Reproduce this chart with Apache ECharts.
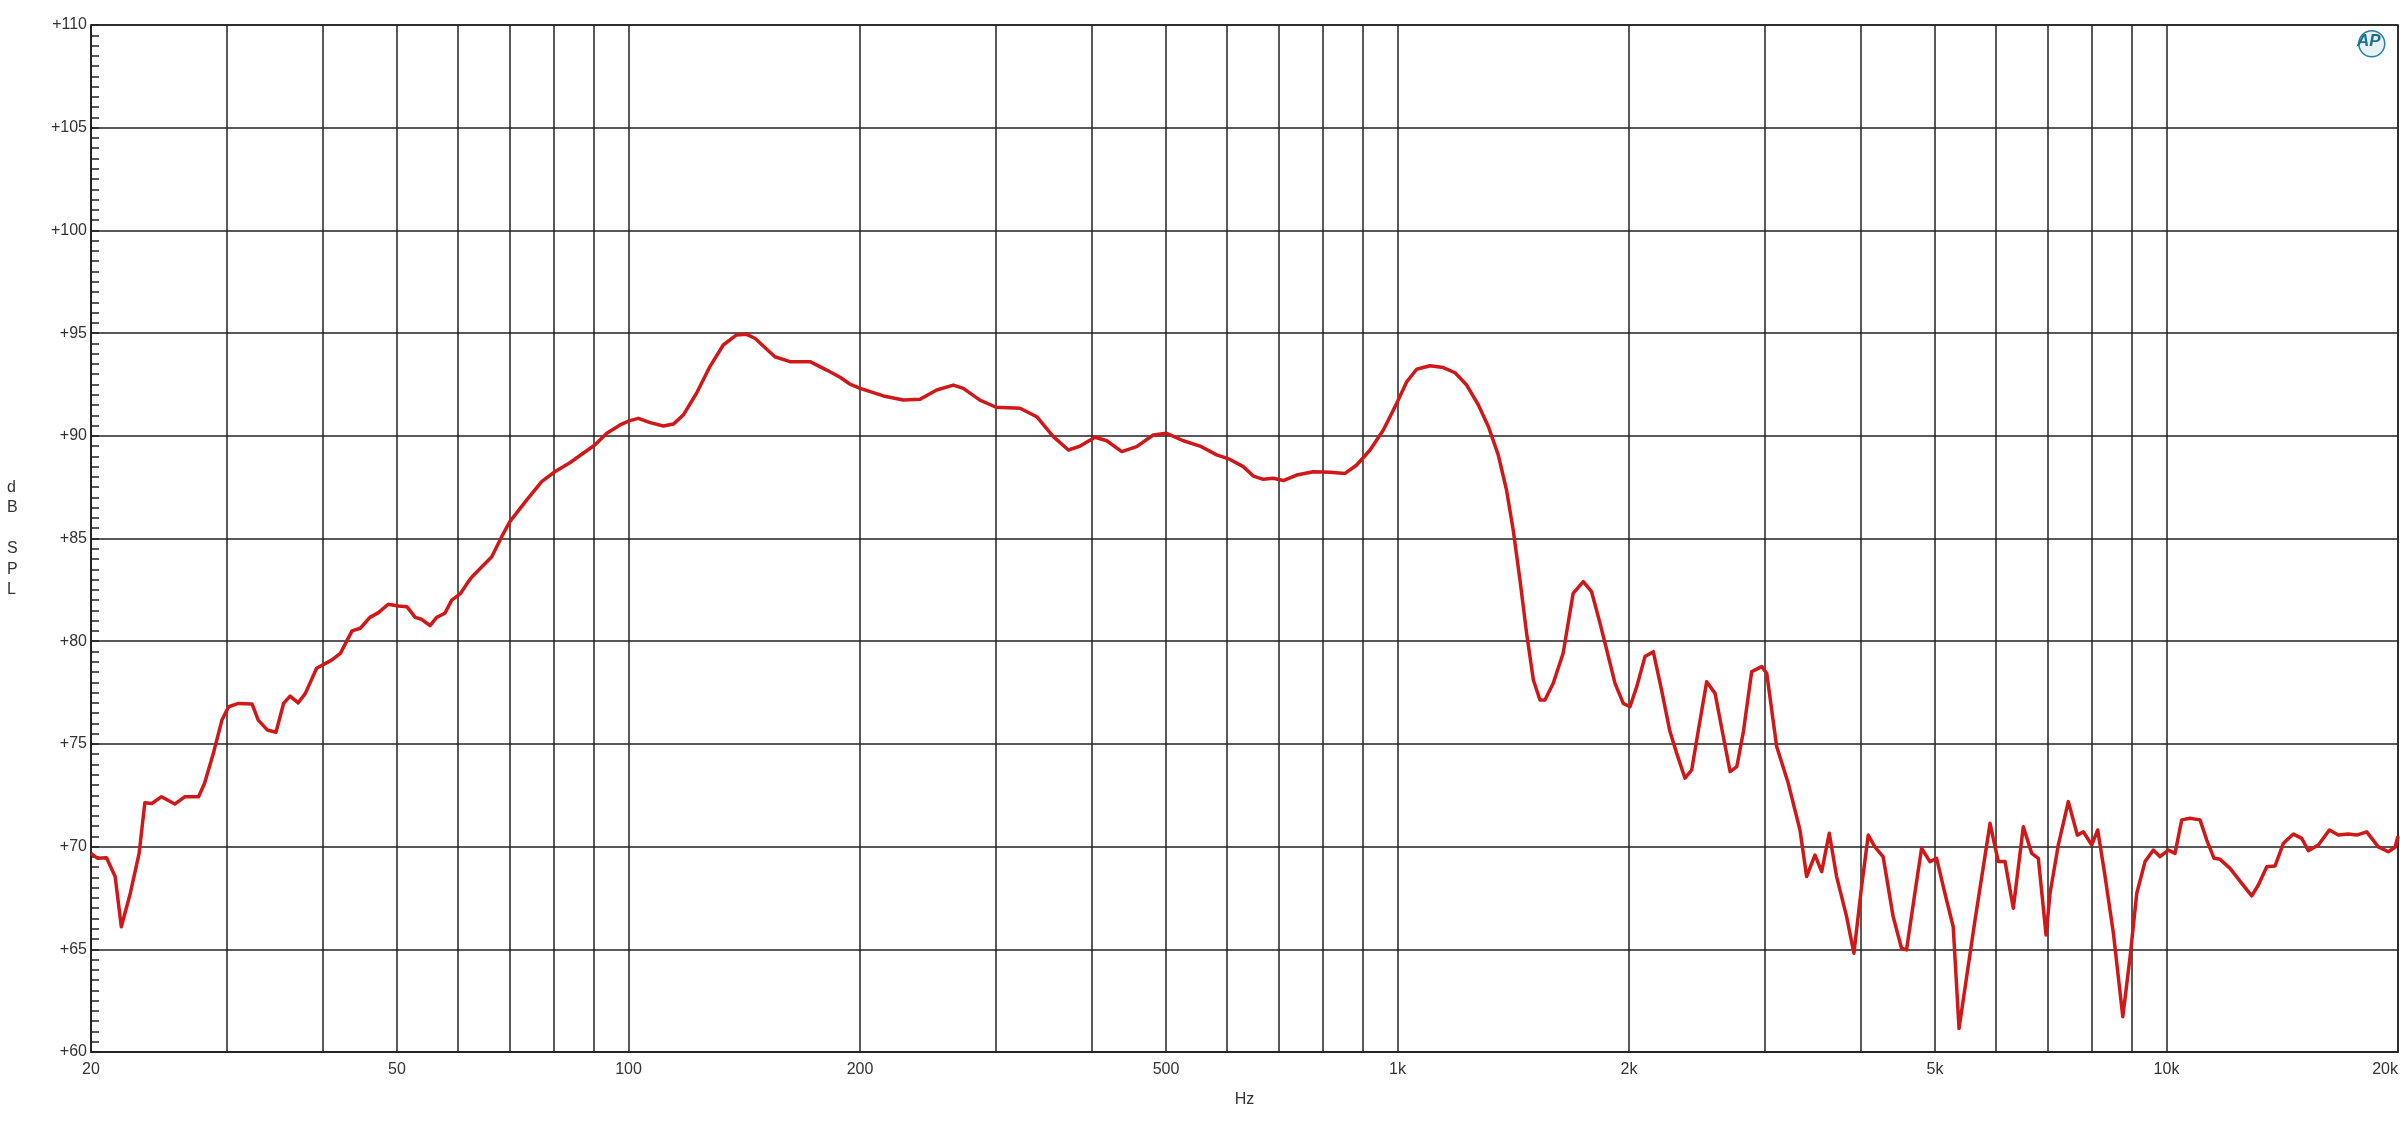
<!DOCTYPE html>
<html>
<head>
<meta charset="utf-8">
<script src="https://cdn.jsdelivr.net/npm/echarts@6/dist/echarts.min.js"></script>
<style>
html,body{margin:0;padding:0;background:#fff;}
#chart{width:2400px;height:1134px;}
</style>
</head>
<body>
<div id="chart"></div>
<script>
// Frequency response (Hz) and level (dB SPL)
const freqHz = [
  20, 20.4, 20.95, 21.5, 21.9, 22.5, 23.1, 23.5, 24.0, 24.7,
  25.7, 26.5, 27.6, 28.1, 28.85, 29.6, 30.2, 31.1, 32.4, 33.0,
  33.9, 34.8, 35.6, 36.3, 37.2, 38.0, 39.3, 41.1, 42.2, 43.7,
  44.8, 46.1, 47.3, 48.7, 50.2, 51.5, 52.8, 53.8, 55.2, 56.3,
  57.7, 58.9, 60.4, 61.9, 62.6, 66.4, 68.4, 70.1, 73.7, 77.1,
  80.2, 83.9, 87.3, 90.4, 93.7, 97.5, 100.4, 103, 106.7, 111,
  114.4, 117.8, 122.6, 127.6, 132.8, 138.2, 142.4, 146, 155, 162.2,
  172.2, 181, 188.4, 194, 200.1, 214.5, 227.7, 239.4, 251.6, 264.5,
  272.5, 286.4, 300.6, 322.9, 339.5, 356.8, 373.3, 386.6, 404.3, 418.7,
  437.9, 457.9, 481.3, 501, 526.6, 553.5, 581.9, 605.6, 630, 649.4,
  669.1, 689.4, 710.4, 739.4, 777.2, 817, 854.6, 885, 921, 958.5,
  997.6, 1028, 1059, 1102, 1147, 1188, 1230, 1274, 1313, 1352,
  1386, 1414, 1443, 1472, 1502, 1532, 1555, 1594, 1642, 1692,
  1744, 1788, 1834, 1871, 1918, 1966, 2006, 2047, 2098, 2151,
  2205, 2261, 2307, 2365, 2413, 2462, 2524, 2588, 2653, 2707,
  2762, 2817, 2888, 2976, 3021, 3112, 3222, 3337, 3404, 3490,
  3561, 3643, 3724, 3837, 3922, 4013, 4094, 4176, 4281, 4411,
  4523, 4591, 4707, 4803, 4924, 5024, 5150, 5280, 5373, 5630,
  5896, 5985, 6044, 6166, 6321, 6513, 6679, 6813, 6972, 7056,
  7233, 7453, 7657, 7796, 7994, 8139, 8320, 8530, 8773, 8967,
  9148, 9378, 9614, 9808, 10055, 10258, 10466, 10730, 11056, 11280,
  11530, 11740, 12096, 12527, 12908, 13166, 13500, 13840, 14190, 14622,
  14992, 15292, 15757, 16285, 16730, 17238, 17675, 18211, 18855, 19428,
  19820, 20000
];
const splDb = [
  69.67, 69.43, 69.46, 68.54, 66.1, 67.73, 69.67, 72.14, 72.1, 72.43,
  72.07, 72.43, 72.43, 73.08, 74.54, 76.16, 76.81, 76.97, 76.94, 76.16,
  75.68, 75.57, 76.97, 77.33, 77.0, 77.46, 78.68, 79.08, 79.41, 80.5,
  80.63, 81.16, 81.39, 81.8, 81.71, 81.68, 81.16, 81.07, 80.76, 81.16,
  81.36, 82.0, 82.3, 82.9, 83.14, 84.11, 85.09, 85.82, 86.87, 87.77,
  88.25, 88.69, 89.15, 89.55, 90.12, 90.53, 90.74, 90.85, 90.64, 90.48,
  90.57, 91.01, 92.07, 93.37, 94.42, 94.91, 94.94, 94.75, 93.85, 93.61,
  93.61, 93.2, 92.85, 92.52, 92.31, 91.94, 91.74, 91.78, 92.23, 92.47,
  92.31, 91.74, 91.39, 91.34, 90.93, 89.96, 89.31, 89.5, 89.93, 89.76,
  89.23, 89.47, 90.04, 90.12, 89.76, 89.5, 89.07, 88.85, 88.5, 88.04,
  87.88, 87.93, 87.82, 88.09, 88.25, 88.23, 88.17, 88.58, 89.31, 90.28,
  91.58, 92.63, 93.24, 93.41, 93.32, 93.07, 92.47, 91.5, 90.44, 89.07,
  87.36, 85.41, 82.98, 80.38, 78.11, 77.14, 77.14, 77.95, 79.41, 82.33,
  82.9, 82.41, 80.87, 79.57, 77.95, 76.97, 76.81, 77.79, 79.25, 79.49,
  77.62, 75.6, 74.54, 73.33, 73.73, 75.68, 78.03, 77.46, 75.35, 73.65,
  73.89, 75.6, 78.52, 78.76, 78.44, 74.87, 73.08, 70.81, 68.54, 69.59,
  68.78, 70.65, 68.54, 66.59, 64.81, 68.05, 70.56, 69.99, 69.5, 66.59,
  65.05, 64.97, 67.73, 69.92, 69.27, 69.43, 67.73, 66.1, 61.14, 66.3,
  71.13, 69.99, 69.27, 69.27, 67.0, 70.97, 69.67, 69.43, 65.7, 67.73,
  70.08, 72.19, 70.56, 70.72, 70.08, 70.81, 68.54, 65.78, 61.72, 64.64,
  67.73, 69.27, 69.83, 69.51, 69.83, 69.67, 71.3, 71.38, 71.3, 70.32,
  69.43, 69.38, 68.94, 68.21, 67.6, 68.13, 69.02, 69.06, 70.16, 70.61,
  70.4, 69.8, 70.08, 70.81, 70.56, 70.61, 70.56, 70.72, 69.99, 69.75,
  69.97, 70.5
];
// Vertical grid lines and labelled frequency ticks
const gridFreqs = [20,30,40,50,60,70,80,90,100,200,300,400,500,600,700,800,900,
  1000,2000,3000,4000,5000,6000,7000,8000,9000,10000,20000];
const labelFreqs = [20,50,100,200,500,1000,2000,5000,10000,20000];
const yMin = 60, yMax = 110, yStep = 5;

const chart = echarts.init(document.getElementById('chart'), null, {renderer: 'canvas'});
const FONT = '"Liberation Sans", Arial, sans-serif';
const TXT = '#333';
const GRID = '#222';

chart.setOption({
  animation: false,
  backgroundColor: '#fff',
  grid: {left: 91, right: 2, top: 25, bottom: 82, show: true, borderColor: GRID, borderWidth: 1.5,
         containLabel: false, outerBoundsMode: 'none'},
  xAxis: {
    type: 'log', logBase: 10, min: 20, max: 20000,
    name: 'Hz', nameLocation: 'middle', nameGap: 40,
    nameTextStyle: {fontFamily: FONT, fontSize: 16, color: TXT},
    axisLine: {show: true, onZero: false, lineStyle: {color: GRID, width: 1.5}},
    axisTick: {show: false, customValues: gridFreqs},
    axisLabel: {
      customValues: labelFreqs, margin: 10, hideOverlap: false,
      alignMaxLabel: 'right',
      fontFamily: FONT, fontSize: 16, color: TXT,
      formatter: v => v >= 1000 ? (v / 1000) + 'k' : String(v)
    },
    splitLine: {show: true, lineStyle: {color: GRID, width: 1.5}},
    minorTick: {show: false}, minorSplitLine: {show: false}
  },
  yAxis: {
    type: 'value', min: yMin, max: yMax, interval: yStep,
    name: 'd\nB\n \nS\nP\nL', nameLocation: 'middle', nameRotate: 0, nameGap: 84,
    nameTextStyle: {fontFamily: FONT, fontSize: 16, color: TXT, lineHeight: 20.5, align: 'left'},
    axisLine: {show: true, lineStyle: {color: GRID, width: 1.5}},
    axisTick: {show: true, inside: true, length: 8, lineStyle: {color: GRID, width: 1.5}},
    minorTick: {show: true, splitNumber: 10, length: 8, lineStyle: {color: GRID, width: 1.5}},
    axisLabel: {
      margin: 4, fontFamily: FONT, fontSize: 16, color: TXT,
      formatter: v => '+' + v
    },
    splitLine: {show: true, lineStyle: {color: GRID, width: 1.5}}
  },
  graphic: [
    {type: 'circle', left: 2358, top: 30, shape: {r: 13}, style: {fill: 'rgba(180,220,235,0.35)', stroke: '#2a7fa0', lineWidth: 1.5}},
    {type: 'text', left: 2357, top: 33, style: {text: 'AP', font: 'italic bold 17px ' + FONT, fill: '#1f6f93'}}
  ],
  series: [{
    type: 'line',
    data: freqHz.map((f, i) => [f, splDb[i]]),
    showSymbol: false,
    smooth: false,
    clip: true,
    lineStyle: {color: '#d01818', width: 3.5, join: 'round'}
  }]
});
</script>
</body>
</html>
